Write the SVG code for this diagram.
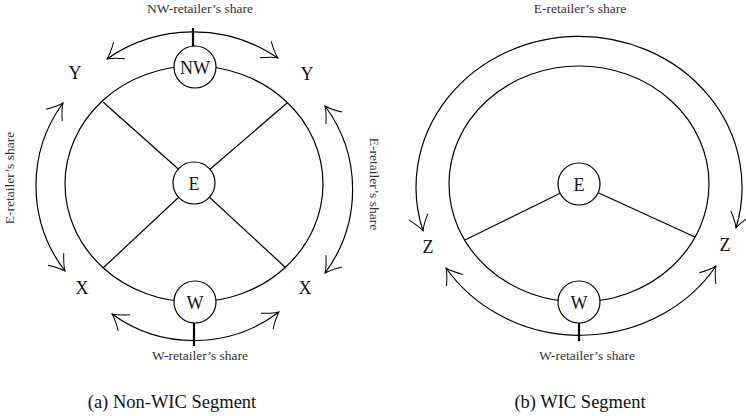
<svg xmlns="http://www.w3.org/2000/svg" width="746" height="416" viewBox="0 0 746 416">
<defs>
<style>
.ln{fill:none;stroke:#000;stroke-width:1.2}
.tk{fill:none;stroke:#000;stroke-width:2.2}
.arr{fill:none;stroke:#000;stroke-width:1.2;marker-start:url(#ah);marker-end:url(#ah)}
.nd{fill:#fff;stroke:#000;stroke-width:1.2}
.nl{font-family:"Liberation Serif",serif;font-size:18px;text-anchor:middle;fill:#111}
.sm{font-family:"Liberation Serif",serif;font-size:13.5px;text-anchor:middle;fill:#333}
.cap{font-family:"Liberation Serif",serif;font-size:18.5px;text-anchor:middle;fill:#111}
</style>
<marker id="ah" markerUnits="userSpaceOnUse" markerWidth="1" markerHeight="1" refX="0" refY="0" orient="auto-start-reverse" overflow="visible">
<path d="M -15,-10 Q -6,-2.5 0,0 Q -6,2.5 -15,10" fill="none" stroke="#000" stroke-width="1"/>
</marker>
</defs>

<g id="connectors">
<!-- panel a -->
<ellipse class="ln" cx="194" cy="184" rx="129" ry="118"/>
<line class="ln" x1="194" y1="183" x2="103" y2="102"/>
<line class="ln" x1="194" y1="183" x2="287" y2="103"/>
<line class="ln" x1="194" y1="183" x2="103" y2="268"/>
<line class="ln" x1="194" y1="183" x2="286" y2="268"/>
<line class="tk" x1="193" y1="28" x2="193" y2="55"/>
<line class="tk" x1="194" y1="310" x2="194" y2="346"/>
<path class="arr" d="M107,59 A151,151 0 0 1 278,58"/>
<path class="arr" d="M112,314 A140,140 0 0 0 279,312"/>
<path class="arr" d="M63,103 A140,140 0 0 0 65,271"/>
<path class="arr" d="M325,106 A140,140 0 0 1 325,273"/>
<!-- panel b -->
<ellipse class="ln" cx="579" cy="184" rx="130" ry="118"/>
<line class="ln" x1="579" y1="184" x2="465" y2="240"/>
<line class="ln" x1="579" y1="184" x2="695" y2="237"/>
<line class="tk" x1="579" y1="310" x2="579" y2="341"/>
<path class="arr" d="M423,231 A163,151 0 1 1 736,228"/>
<path class="arr" d="M446,268 A161,150 0 0 0 716,266"/>
</g>

<g id="node-a-NW"><circle class="nd" cx="195" cy="67" r="21"/><text class="nl" x="195" y="73.5">NW</text></g>
<g id="node-a-E"><circle class="nd" cx="194" cy="183" r="21"/><text class="nl" x="194" y="189.5">E</text></g>
<g id="node-a-W"><circle class="nd" cx="195" cy="302" r="21"/><text class="nl" x="195" y="308.5">W</text></g>
<g id="node-b-E"><circle class="nd" cx="579" cy="184" r="21"/><text class="nl" x="579" y="190.5">E</text></g>
<g id="node-b-W"><circle class="nd" cx="579" cy="302" r="21"/><text class="nl" x="579" y="308.5">W</text></g>

<g id="labels">
<text class="nl" x="75" y="79">Y</text>
<text class="nl" x="307" y="80">Y</text>
<text class="nl" x="82" y="294">X</text>
<text class="nl" x="305" y="294">X</text>
<text class="nl" x="428" y="253">Z</text>
<text class="nl" x="725" y="251">Z</text>
<text class="sm" x="200" y="13">NW-retailer’s share</text>
<text class="sm" x="200" y="360">W-retailer’s share</text>
<text class="sm" transform="translate(14,178) rotate(-90)">E-retailer’s share</text>
<text class="sm" transform="translate(370,184) rotate(90)">E-retailer’s share</text>
<text class="sm" x="580" y="13">E-retailer’s share</text>
<text class="sm" x="587" y="360">W-retailer’s share</text>
<text class="cap" x="172" y="408">(a) Non-WIC Segment</text>
<text class="cap" x="580" y="408">(b) WIC Segment</text>
</g>
</svg>
